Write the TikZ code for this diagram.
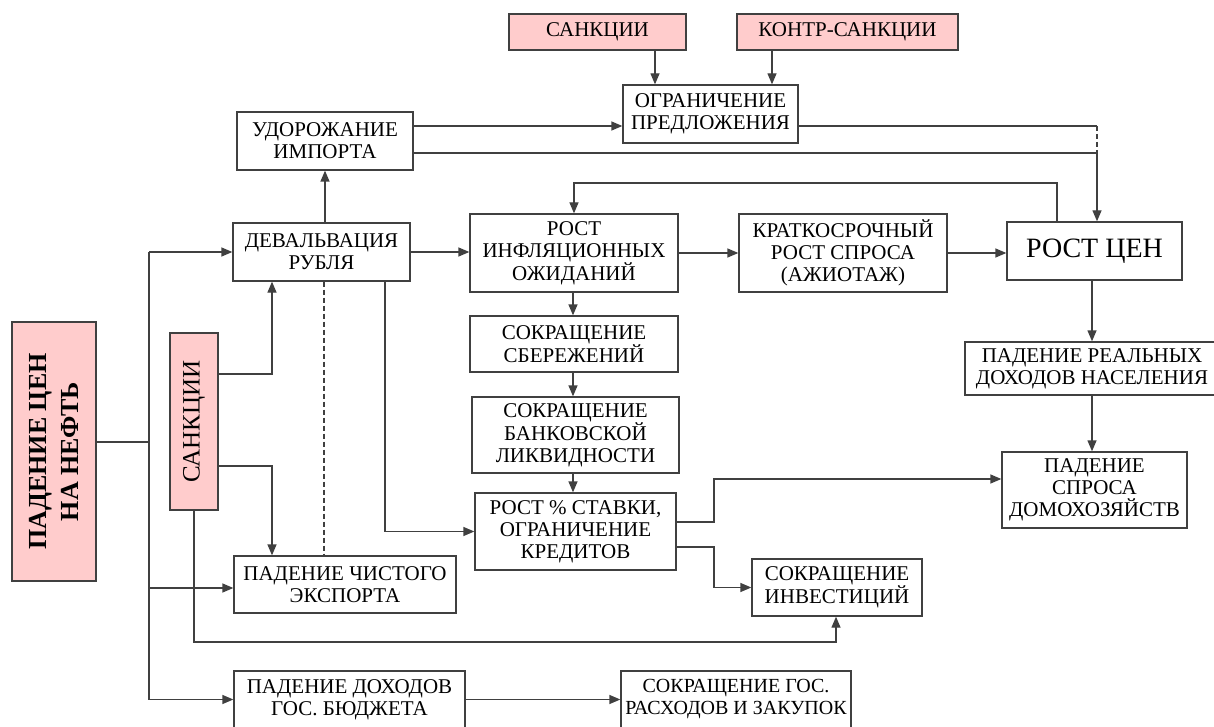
\documentclass[tikz,border=0pt]{standalone}
\usepackage{fontspec}
\setmainfont{Liberation Serif}
\usetikzlibrary{arrows.meta}
\tikzset{
	box/.style={draw=black!75, line width=1.3pt, fill=white, align=center, inner sep=0pt,
		font=\fontsize{21}{22}\selectfont},
	pinkbox/.style={box, fill=red!20},
	wh/.style 2 args={minimum width=#1, minimum height=#2},
	arr/.style={-{Triangle[length=11pt,width=9pt]}},
	dash5/.style={dash pattern=on 5pt off 3pt}
}
\begin{document}
\begin{tikzpicture}[x=1pt, y=-1pt, line width=1.3pt, draw=black!75]
	\useasboundingbox (0,0) rectangle (1214,727);

	\node[pinkbox, wh={259}{84}, rotate=90, font=\fontsize{26}{32}\selectfont\bfseries] (oil) at (54,451.5) {ПАДЕНИЕ ЦЕН\\НА НЕФТЬ};
	\node[pinkbox, wh={177}{48}, rotate=90, font=\fontsize{25}{27}\selectfont] (sanc) at (194,421.5) {САНКЦИИ};
	\node[pinkbox, wh={177}{36}] (sanctop) at (597.5,32) {САНКЦИИ};
	\node[pinkbox, wh={221}{36}] (counter) at (847.5,32) {КОНТР-САНКЦИИ};

	\node[box, wh={176}{58}] (importup) at (325,141) {УДОРОЖАНИЕ\\ИМПОРТА};
	\node[box, wh={175}{58}] (supply) at (710.5,114) {ОГРАНИЧЕНИЕ\\ПРЕДЛОЖЕНИЯ};
	\node[box, wh={177}{58}] (deval) at (321.5,252) {ДЕВАЛЬВАЦИЯ\\РУБЛЯ};
	\node[box, wh={208}{78}] (infl) at (574,253) {РОСТ\\ИНФЛЯЦИОННЫХ\\ОЖИДАНИЙ};
	\node[box, wh={208}{78}] (shortrun) at (843,253) {КРАТКОСРОЧНЫЙ\\РОСТ СПРОСА\\(АЖИОТАЖ)};
	\node[box, wh={175}{58}, font=\fontsize{28}{30}\selectfont] (prices) at (1094.5,251) {РОСТ ЦЕН};
	\node[box, wh={208}{56}] (savings) at (574,344) {СОКРАЩЕНИЕ\\СБЕРЕЖЕНИЙ};
	\node[box, wh={207}{76}] (liquidity) at (575.5,435) {СОКРАЩЕНИЕ\\БАНКОВСКОЙ\\ЛИКВИДНОСТИ};
	\node[box, wh={201}{77}] (rate) at (575.5,531.5) {РОСТ \% СТАВКИ,\\ОГРАНИЧЕНИЕ\\КРЕДИТОВ};
	\node[box, wh={254}{53}] (realinc) at (1092,368.5) {ПАДЕНИЕ РЕАЛЬНЫХ\\ДОХОДОВ НАСЕЛЕНИЯ};
	\node[box, wh={185}{76}] (demand) at (1094.5,490) {ПАДЕНИЕ\\СПРОСА\\ДОМОХОЗЯЙСТВ};
	\node[box, wh={170}{57}] (invest) at (837,587.5) {СОКРАЩЕНИЕ\\ИНВЕСТИЦИЙ};
	\node[box, wh={222}{57}] (export) at (345,584.5) {ПАДЕНИЕ ЧИСТОГО\\ЭКСПОРТА};
	\node[box, wh={231}{57}] (budget) at (349.5,699.5) {ПАДЕНИЕ ДОХОДОВ\\ГОС. БЮДЖЕТА};
	\node[box, wh={230}{57}, font=\fontsize{20}{22}\selectfont] (govspend) at (736,699.5) {СОКРАЩЕНИЕ ГОС.\\РАСХОДОВ И ЗАКУПОК};

	\coordinate (trunk) at (149,442);
	\draw (oil.south |- trunk) -- (trunk);
	\draw (trunk |- deval) -- (trunk |- budget);
	\draw[arr] (trunk |- deval) -- (deval);
	\draw[arr] (trunk |- 0,588) -- (export.west |- 0,588);
	\draw[arr] (trunk |- budget) -- (budget);

	\draw[arr] (sanc.south |- 0,374) -| (deval.south -| 272,0);
	\draw[arr] (sanc.south |- 0,466) -| (export.north -| 272,0);
	\coordinate (lowbus) at (836,642);
	\draw[arr] (sanc.west) |- (lowbus) -- (invest.south -| lowbus);

	\draw[arr] (importup.south |- deval.north) -- (importup.south);
	\draw[dash5] (deval.south -| 324,0) -- (export.north -| 324,0);
	\draw[arr] (deval.east) -- (infl.west |- deval.east);
	\draw[arr] (deval.south -| 385,0) |- (rate);

	\draw[arr] (importup.east |- 0,126) -- (supply.west |- 0,126);
	\coordinate (drop) at (1097,153);
	\draw (supply.east |- 0,126) -- (drop |- 0,126);
	\draw[dash5] (drop |- 0,126) -- (drop);
	\draw[arr] (importup.east |- drop) -| (prices.north -| drop);
	\draw[arr] (sanctop.south -| 655,0) -- (supply.north -| 655,0);
	\draw[arr] (counter.south -| 772,0) -- (supply.north -| 772,0);

	\draw[arr] (infl.east) -- (shortrun.west);
	\draw[arr] (shortrun.east) -- (prices.west |- shortrun.east);
	\coordinate (loop) at (1057,183);
	\draw[arr] (prices.north -| loop) -- (loop) -| (infl.north);
	\foreach \a/\b in {infl/savings, savings/liquidity, liquidity/rate}
	{
		\draw[arr] (\a.south -| 573,0) -- (\b.north -| 573,0);
	}

	\coordinate (split) at (714,522);
	\draw[arr] (rate.east |- split) -- (split) |- (demand.west |- 0,479);
	\draw[arr] (rate.east |- 0,547) -| (split |- invest) -- (invest);

	\draw[arr] (prices.south -| 1092,0) -- (realinc.north -| 1092,0);
	\draw[arr] (realinc.south -| 1092,0) -- (demand.north -| 1092,0);
	\draw[arr] (budget) -- (govspend);
\end{tikzpicture}
\end{document}
